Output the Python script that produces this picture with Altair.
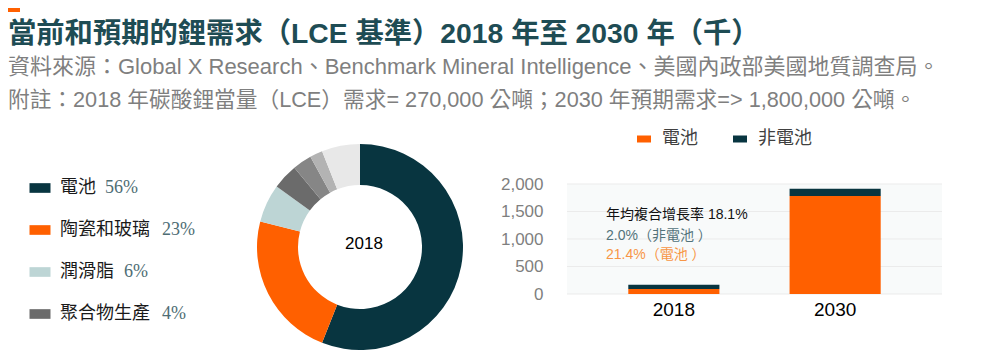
import altair as alt
import pandas as pd

# ---------------- data ----------------
title_text = "當前和預期的鋰需求（LCE 基準）2018 年至 2030 年（千）"
source_text = "資料來源：Global X Research、Benchmark Mineral Intelligence、美國內政部美國地質調查局。"
note_text = "附註：2018 年碳酸鋰當量（LCE）需求= 270,000 公噸；2030 年預期需求=> 1,800,000 公噸。"

use_categories = ["電池", "陶瓷和玻璃", "潤滑脂", "聚合物生產", "連續鑄造", "空氣處理", "其他"]
use_share_2018 = [56, 23, 6, 4, 3, 2, 6]
legend_count = 4
donut_center_label = "2018"

years = ["2018", "2030"]
demand_series = ["電池", "非電池"]
battery_demand = [90, 1780]
non_battery_demand = [78, 133]
y_ticks = [0, 500, 1000, 1500, 2000]

cagr_total = "年均複合增長率 18.1%"
cagr_non_battery = "2.0%（非電池 ）"
cagr_battery = "21.4%（電池 ）"

# ---------------- styles ----------------
ORANGE = "#ff6000"
TEAL = "#083540"
use_colors = [TEAL, ORANGE, "#bdd5d5", "#6b6b6b", "#868686", "#b3b3b3", "#e8e8e8"]
CJK = "Noto Sans CJK TC"
SANS = "Liberation Sans, Noto Sans CJK TC"
NARROW = "Liberation Sans Narrow, Liberation Sans"
SERIF = "Liberation Serif, DejaVu Serif"
TITLE_COLOR = "#1e4c54"
GREY_TEXT = "#7f7f7f"
PCT_COLOR = "#4e6d74"

one = pd.DataFrame({"a": [0]})


# ---------------- header ----------------
def text_layer(txt, y, size, color, weight="normal"):
    return alt.Chart(pd.DataFrame({"t": [txt]})).mark_text(
        align="left", baseline="alphabetic", font=SANS, fontSize=size,
        color=color, fontWeight=weight
    ).encode(text="t:N", x=alt.value(0), y=alt.value(y))


accent = alt.Chart(one).mark_rect(color=ORANGE).encode(
    x=alt.value(0), x2=alt.value(12), y=alt.value(0), y2=alt.value(4)
)
header = alt.layer(
    accent,
    text_layer(title_text, 35, 28.3, TITLE_COLOR, "bold"),
    text_layer(source_text, 66, 22, GREY_TEXT),
    text_layer(note_text, 99, 21.7, GREY_TEXT),
).properties(width=934, height=112)

# ---------------- panel A: legend of donut ----------------
donut_df = pd.DataFrame({
    "category": use_categories,
    "share": use_share_2018,
    "rank": list(range(len(use_categories))),
})
legend_df = donut_df.iloc[:legend_count].copy()
legend_df["pct"] = legend_df["share"].astype(str) + "%"
legend_df["pct_x"] = 52 + legend_df["category"].str.len() * 19 + 7

color_scale = alt.Scale(domain=use_categories, range=use_colors)
ypos = alt.Y("category:N", sort=use_categories[:legend_count],
             scale=alt.Scale(range=[68, 194], padding=0), axis=None)

swatch = alt.Chart(legend_df).mark_point(
    shape="M-1,-0.46H1V0.46H-1Z", filled=True, opacity=1, size=441
).encode(x=alt.value(32), y=ypos,
         color=alt.Color("category:N", scale=color_scale, legend=None))
label = alt.Chart(legend_df).mark_text(
    align="left", baseline="middle", font=CJK, fontSize=18, color="#1a1a1a"
).encode(x=alt.value(52), y=ypos, text="category:N")
pct = alt.Chart(legend_df).mark_text(
    align="left", baseline="middle", font=SERIF, fontSize=18, color=PCT_COLOR
).encode(x=alt.X("pct_x:Q", scale=None, axis=None), y=ypos, text="pct:N")
panelA = alt.layer(swatch, label, pct).properties(width=242, height=230)

# ---------------- panel B: donut ----------------
donut = alt.Chart(donut_df).mark_arc(outerRadius=103, innerRadius=62).encode(
    theta=alt.Theta("share:Q", stack=True),
    order=alt.Order("rank:Q"),
    color=alt.Color("category:N", scale=color_scale, legend=None),
    x=alt.value(110), y=alt.value(127),
)
center = alt.Chart(pd.DataFrame({"t": [donut_center_label]})).mark_text(
    font=NARROW, fontSize=17, color="#000000", align="center", baseline="middle"
).encode(text="t:N", x=alt.value(114), y=alt.value(124))
panelB = alt.layer(donut, center).properties(width=317, height=230)

# ---------------- panel C: stacked bars ----------------
rows = []
for i, yr in enumerate(years):
    rows.append({"year": yr, "series": demand_series[0], "value": battery_demand[i], "stack": 0})
    rows.append({"year": yr, "series": demand_series[1], "value": non_battery_demand[i], "stack": 1})
bar_df = pd.DataFrame(rows)

y_scale = alt.Scale(domain=[0, 2000], range=[174, 64], nice=False)
y_axis = alt.Axis(title=None, values=y_ticks, format=",.0f", ticks=False, domain=False,
                  labelFont="Liberation Sans", labelFontSize=17, labelColor=GREY_TEXT,
                  labelPadding=24, grid=False)

bg = alt.Chart(one).mark_rect(color="#f8fafa").encode(
    x=alt.value(0), x2=alt.value(375), y=alt.value(64), y2=alt.value(174)
)
grid = alt.Chart(pd.DataFrame({"tick": y_ticks})).mark_rule(
    color="#ebebeb", strokeWidth=1
).encode(y=alt.Y("tick:Q", scale=y_scale, axis=y_axis))

bars = alt.Chart(bar_df).mark_bar().encode(
    x=alt.X("year:N", sort=years,
            scale=alt.Scale(paddingInner=0.435, paddingOuter=0.38),
            axis=alt.Axis(title=None, labelAngle=0, ticks=False, domain=False,
                          labelFont=NARROW, labelFontSize=19, labelColor="#000000",
                          labelPadding=6, grid=False)),
    y=alt.Y("value:Q", stack="zero", scale=y_scale, axis=y_axis),
    color=alt.Color("series:N", sort=demand_series,
                    scale=alt.Scale(domain=demand_series, range=[ORANGE, TEAL]),
                    legend=alt.Legend(title=None, orient="none", legendX=68, legendY=10,
                                      direction="horizontal",
                                      symbolType="M-1,-0.5H1V0.5H-1Z", symbolSize=196,
                                      labelFont=CJK, labelFontSize=18, labelColor="#404040",
                                      labelOffset=9, columnPadding=33, padding=0,
                                      symbolStrokeWidth=0)),
    order=alt.Order("stack:Q"),
)


def ann(txt, y, color):
    return alt.Chart(pd.DataFrame({"t": [txt]})).mark_text(
        align="left", baseline="middle", font=SANS, fontSize=14, color=color
    ).encode(text="t:N", x=alt.value(39), y=alt.value(y))


panelC = alt.layer(
    bg, grid, bars,
    ann(cagr_total, 95, "#111111"),
    ann(cagr_non_battery, 116, "#52727a"),
    ann(cagr_battery, 135, "#f79646"),
).properties(width=375, height=174)

body = alt.hconcat(panelA, panelB, panelC, spacing=0, bounds="flush").resolve_scale(
    color="independent"
)

chart = alt.vconcat(header, body, spacing=0, bounds="flush").properties(
    padding=0
).configure_view(stroke=None)

chart.save("out.html", embed_options={"renderer": "svg", "actions": False})
